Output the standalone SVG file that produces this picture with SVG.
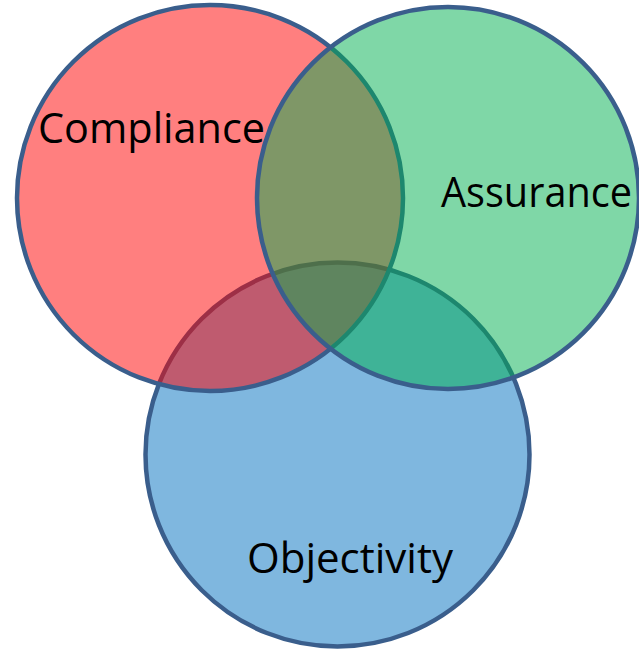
<svg xmlns="http://www.w3.org/2000/svg" width="639" height="650" viewBox="0 0 639 650">
<style>
.c{stroke:#3A5E8C;stroke-width:4.5;fill-opacity:0.5}
.t{font-family:"Open Sans","Liberation Sans",sans-serif;font-size:42px;fill:#000}
</style>
<rect width="639" height="650" fill="#fff"/>
<g id="objectivity">
<circle class="c" cx="337.5" cy="454.5" r="192" fill="#0070C0"/>
</g>
<g id="compliance">
<circle class="c" cx="210" cy="198" r="193" fill="#FF0000"/>
</g>
<g id="assurance">
<circle class="c" cx="448" cy="198" r="191" fill="#00B050"/>
</g>
<g id="labels">
<text class="t" x="38" y="143" textLength="227" lengthAdjust="spacingAndGlyphs">Compliance</text>
<text class="t" x="441" y="207" textLength="191" lengthAdjust="spacingAndGlyphs">Assurance</text>
<text class="t" x="247" y="573" textLength="206" lengthAdjust="spacingAndGlyphs">Objectivity</text>
</g>
</svg>
